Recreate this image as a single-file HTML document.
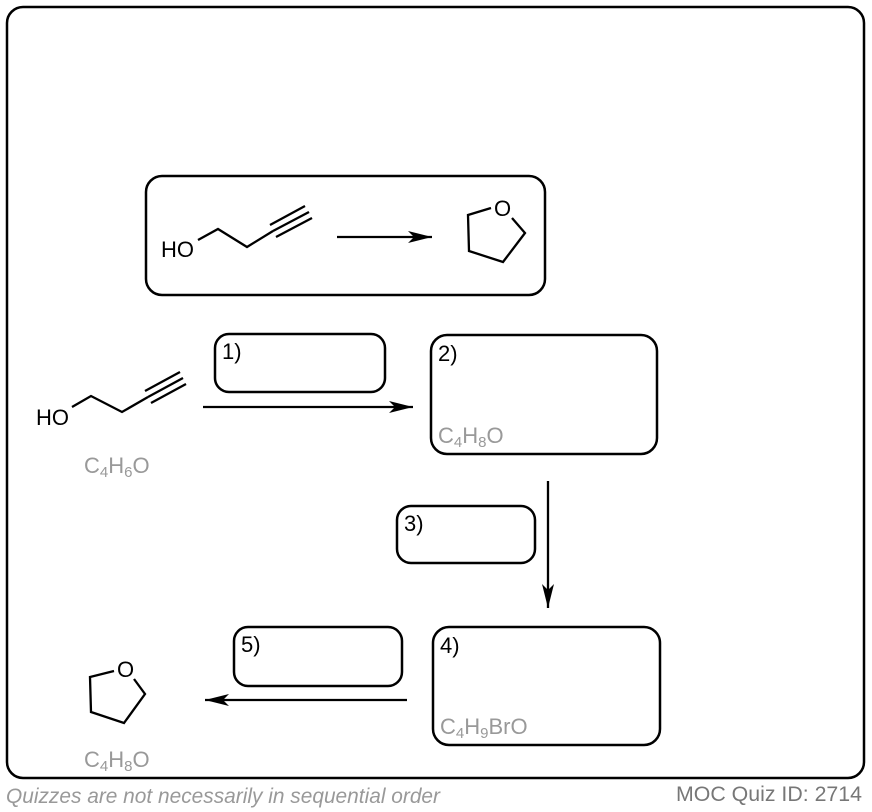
<!DOCTYPE html>
<html><head><meta charset="utf-8"><style>
html,body{margin:0;padding:0;background:#fff;}
svg{display:block;font-family:"Liberation Sans",Arial,sans-serif;}
</style></head><body>
<svg width="872" height="812" viewBox="0 0 872 812" xmlns="http://www.w3.org/2000/svg">
<defs>
<marker id="ah" viewBox="0 0 24 12" refX="24" refY="6" markerWidth="24" markerHeight="12" markerUnits="userSpaceOnUse" orient="auto">
<path d="M0,0 L24,6 L0,12 L6,6 Z" fill="#000"/>
</marker>
</defs>
<g fill="none" stroke="#000" stroke-width="2.5">
<rect x="7" y="7" width="857" height="771" rx="16"/>
<rect x="146" y="176" width="399" height="119" rx="16"/>
<rect x="215" y="334" width="170" height="58" rx="14"/>
<rect x="431" y="335" width="226" height="119" rx="16"/>
<rect x="397" y="506" width="138" height="57" rx="14"/>
<rect x="433" y="627" width="227" height="118" rx="16"/>
<rect x="234" y="627" width="168" height="59" rx="14"/>
</g>
<g fill="none" stroke="#000" stroke-width="2.3">
<polyline points="198,240 218,229 247,247 273,231"/>
<line x1="273" y1="231" x2="309" y2="212"/>
<line x1="270" y1="225" x2="305" y2="206"/>
<line x1="276" y1="237" x2="312" y2="218"/>
<line x1="337" y1="237" x2="432" y2="237" marker-end="url(#ah)"/>
<polyline points="491,208 468,215 469,251 503,262 525,233 512,218"/>
<polyline points="72,407 91,396 122,412 148,397"/>
<line x1="148" y1="397" x2="183" y2="378"/>
<line x1="145" y1="391" x2="180" y2="372"/>
<line x1="151" y1="403" x2="186" y2="384"/>
<line x1="203" y1="407" x2="413" y2="407" marker-end="url(#ah)"/>
<line x1="548" y1="481" x2="548" y2="608" marker-end="url(#ah)"/>
<line x1="407" y1="700" x2="205" y2="700" marker-end="url(#ah)"/>
<polyline points="114,671 90,677 91,712 124,723 145,694 134,679"/>
</g>
<g font-size="22" fill="#000">
<text x="161" y="257">HO</text>
<text x="494" y="216">O</text>
<text x="36" y="425">HO</text>
<text x="117" y="677">O</text>
<text x="222" y="359">1)</text>
<text x="438" y="361">2)</text>
<text x="404" y="531">3)</text>
<text x="440" y="653">4)</text>
<text x="241" y="652">5)</text>
</g>
<g font-size="22" fill="#999">
<text x="84" y="473">C<tspan font-size="15" dy="4">4</tspan><tspan dy="-4">H</tspan><tspan font-size="15" dy="4">6</tspan><tspan dy="-4">O</tspan></text>
<text x="438" y="443">C<tspan font-size="15" dy="4">4</tspan><tspan dy="-4">H</tspan><tspan font-size="15" dy="4">8</tspan><tspan dy="-4">O</tspan></text>
<text x="440" y="734">C<tspan font-size="15" dy="4">4</tspan><tspan dy="-4">H</tspan><tspan font-size="15" dy="4">9</tspan><tspan dy="-4">BrO</tspan></text>
<text x="84" y="767">C<tspan font-size="15" dy="4">4</tspan><tspan dy="-4">H</tspan><tspan font-size="15" dy="4">8</tspan><tspan dy="-4">O</tspan></text>
</g>
<text x="6" y="803" font-size="21" font-style="italic" fill="#999" textLength="434" lengthAdjust="spacingAndGlyphs">Quizzes are not necessarily in sequential order</text>
<text x="676" y="801" font-size="21" fill="#777" textLength="186" lengthAdjust="spacingAndGlyphs">MOC Quiz ID: 2714</text>
</svg>
</body></html>
